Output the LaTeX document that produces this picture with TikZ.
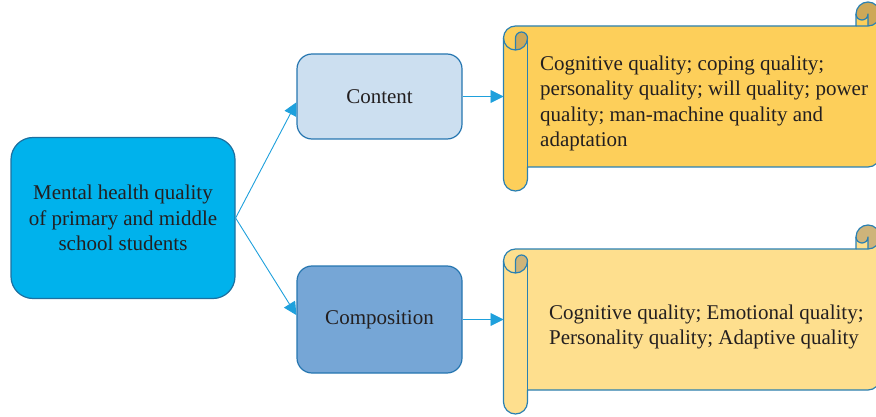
\documentclass[tikz,border=0pt]{standalone}
\usepackage{fontspec}
\setmainfont{Liberation Serif}
\usetikzlibrary{arrows.meta,positioning}
\definecolor{colorText}{RGB}{35,31,32}
\definecolor{colorMain}{RGB}{0,178,236}
\definecolor{colorMainLine}{RGB}{28,112,160}
\definecolor{colorContent}{RGB}{204,223,240}
\definecolor{colorComp}{RGB}{118,166,214}
\definecolor{colorBoxLine}{RGB}{38,118,176}
\definecolor{colorLink}{RGB}{30,160,220}
\definecolor{colorScrollA}{RGB}{253,207,90}
\definecolor{colorScrollB}{RGB}{254,223,142}
\definecolor{colorCurlA}{RGB}{206,168,88}
\definecolor{colorCurlB}{RGB}{206,180,122}
\definecolor{colorScrollLine}{RGB}{42,128,178}
\tikzset{
   every path/.style={>={Triangle[length=13pt,width=13pt]}},
   txt/.style={text=colorText,font=\fontsize{21}{25.5}\selectfont},
   mainbox/.style={txt,draw=colorMainLine,fill=colorMain,line width=1.2pt,rounded corners=22pt,
      minimum width=224pt,minimum height=161pt,align=center,inner sep=0pt},
   partbox/.style={txt,draw=colorBoxLine,line width=1.2pt,rounded corners=15pt,
      minimum width=165pt,align=center},
   link/.style={->,color=colorLink,line width=0.9pt},
   scrollline/.style={draw=colorScrollLine,line width=1.2pt,line join=round},
   scrolltext/.style={txt,align=left,inner sep=0pt,anchor=west},
}
% horizontal scroll: name, left, top, right, bottom, fill, curl colour
\newcommand{\hscroll}[7]{%
   \pgfmathsetmacro{\scL}{#2}\pgfmathsetmacro{\scT}{#3}%
   \pgfmathsetmacro{\scR}{#4}\pgfmathsetmacro{\scB}{#5}%
   \pgfmathsetmacro{\scC}{24}\pgfmathsetmacro{\scH}{12}\pgfmathsetmacro{\scQ}{6}%
   \fill[#6] (\scR,\scT+\scH) arc[start angle=0,delta angle=90,radius=\scH]
      -- (\scR-\scH,\scT+\scH) arc[start angle=0,delta angle=180,radius=\scQ]
      -- (\scR-\scC,\scT+\scC) -- (\scL+\scH,\scT+\scC)
      arc[start angle=270,delta angle=-90,radius=\scH]
      -- (\scL,\scB-\scH) arc[start angle=180,delta angle=-180,radius=\scH]
      -- (\scL+\scC,\scB-\scC) -- (\scR-\scH,\scB-\scC)
      arc[start angle=90,delta angle=-90,radius=\scH] -- cycle;
   \fill[#7] (\scL+\scH,\scT+2*\scC) arc[start angle=90,delta angle=-90,radius=\scH]
      arc[start angle=0,delta angle=-180,radius=\scQ] -- cycle;
   \fill[#7] (\scR-\scH,\scT+\scC) arc[start angle=90,delta angle=-270,radius=\scH]
      arc[start angle=180,delta angle=-180,radius=\scQ] -- cycle;
   \draw[scrollline] (\scL,\scT+\scC+\scH) arc[start angle=180,delta angle=90,radius=\scH]
      -- (\scR-\scC,\scT+\scC) -- (\scR-\scC,\scT+\scH)
      arc[start angle=180,delta angle=180,radius=\scH]
      -- (\scR,\scB-\scC-\scH) arc[start angle=0,delta angle=90,radius=\scH]
      -- (\scL+\scC,\scB-\scC) -- (\scL+\scC,\scB-\scH)
      arc[start angle=0,delta angle=180,radius=\scH] -- cycle;
   \draw[scrollline] (\scR-\scC,\scT+\scC) -- (\scR-\scH,\scT+\scC)
      arc[start angle=90,delta angle=-90,radius=\scH];
   \draw[scrollline] (\scR-\scH,\scT+\scC) -- (\scR-\scH,\scT+\scH)
      arc[start angle=0,delta angle=180,radius=\scQ];
   \draw[scrollline] (\scL+\scH,\scT+2*\scC) -- (\scL+\scH,\scT+\scC+\scH)
      arc[start angle=180,delta angle=180,radius=\scQ]
      arc[start angle=0,delta angle=180,radius=\scH];
   \draw[scrollline] (\scL+\scC,\scT+\scC+\scH) -- (\scL+\scC,\scB-\scC);
   \coordinate (#1) at (\scL,{(\scT+\scB)/2});
}

\begin{document}
\begin{tikzpicture}[x=1pt,y=-1pt]
        \useasboundingbox (0,0) rectangle (876,417);
        \clip (0,0) rectangle (876,417);

        \node[mainbox] (main) at (123,218) {Mental health quality\\of primary and middle\\school students};
        \node[partbox,fill=colorContent,minimum height=85pt] (content) at (379.5,96.5) {Content};
        \node[partbox,fill=colorComp,minimum height=107pt] (composition) at (379.5,319.5) {Composition};

        \hscroll{scrollA}{503.5}{2}{880}{191}{colorScrollA}{colorCurlA}
        \hscroll{scrollB}{503.5}{225}{880}{414}{colorScrollB}{colorCurlB}

        \node[scrolltext] (contentlist) at (540,103.5) {Cognitive quality; coping quality;\\personality quality; will quality; power\\quality; man-machine quality and\\adaptation};
        \node[scrolltext] (complist) at (549,327) {Cognitive quality; Emotional quality;\\Personality quality; Adaptive quality};

        \draw[link] (main.east) -- (content.184);
        \draw[link] (main.east) -- (composition.177);
        \draw[link] (content) -- (scrollA);
        \draw[link] (composition) -- (scrollB);
\end{tikzpicture}
\end{document}
